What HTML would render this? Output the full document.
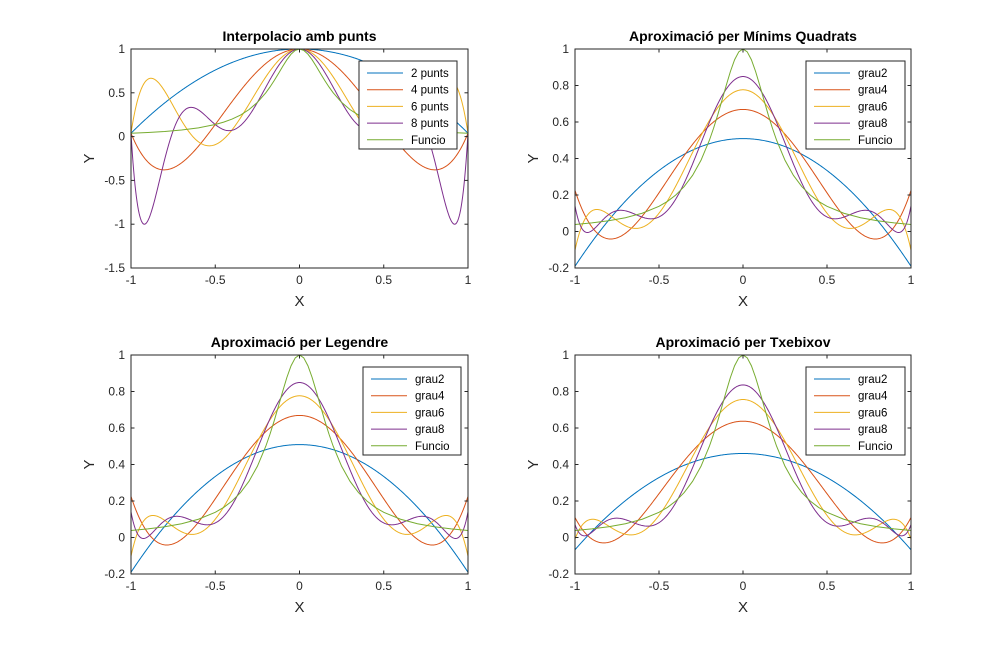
<!DOCTYPE html>
<html><head><meta charset="utf-8"><style>
body{margin:0;background:#fff;width:1008px;height:645px;overflow:hidden}
svg{font-family:"Liberation Sans",sans-serif}
</style></head><body>
<svg id="fig" width="1008" height="645"></svg>
<script>
// Data: sampled function values
const sampleX = [-1,-0.9,-0.8,-0.7,-0.6,-0.5,-0.45,-0.4,-0.35,-0.3,-0.25,-0.2,-0.175,-0.15,-0.125,-0.1,-0.075,-0.05,-0.025,0,0.025,0.05,0.075,0.1,0.125,0.15,0.175,0.2,0.25,0.3,0.35,0.4,0.45,0.5,0.6,0.7,0.8,0.9,1];
const sampleY = [0.0385,0.0471,0.0588,0.0755,0.1,0.1379,0.1649,0.2,0.2462,0.3077,0.3902,0.5,0.5664,0.64,0.7191,0.8,0.8767,0.9412,0.9846,1,0.9846,0.9412,0.8767,0.8,0.7191,0.64,0.5664,0.5,0.3902,0.3077,0.2462,0.2,0.1649,0.1379,0.1,0.0755,0.0588,0.0471,0.0385];
// Interpolation nodes (equispaced) and values
const nodes2X = [-1,0,1];
const nodes2Y = [0.0385,1,0.0385];
const nodes4X = [-1,-0.5,0,0.5,1];
const nodes4Y = [0.0385,0.1379,1,0.1379,0.0385];
const nodes6X = [-1,-2/3,-1/3,0,1/3,2/3,1];
const nodes6Y = [0.0385,0.0826,0.2647,1,0.2647,0.0826,0.0385];
const nodes8X = [-1,-0.75,-0.5,-0.25,0,0.25,0.5,0.75,1];
const nodes8Y = [0.0385,0.0664,0.1379,0.3902,1,0.3902,0.1379,0.0664,0.0385];
const degrees = [2,4,6,8];
const xTicks = [-1,-0.5,0,0.5,1];
const xTickLabels = ["-1","-0.5","0","0.5","1"];
const yTicks1 = [-1.5,-1,-0.5,0,0.5,1];
const yTickLabels1 = ["-1.5","-1","-0.5","0","0.5","1"];
const yTicks2 = [-0.2,0,0.2,0.4,0.6,0.8,1];
const yTickLabels2 = ["-0.2","0","0.2","0.4","0.6","0.8","1"];

const colors=["#0072BD","#D95319","#EDB120","#7E2F8E","#77AC30"];
const NS="http://www.w3.org/2000/svg";
const svg=document.getElementById('fig');
function el(tag,attrs,parent){const e=document.createElementNS(NS,tag);for(const k in attrs)e.setAttribute(k,attrs[k]);(parent||svg).appendChild(e);return e;}

function lagrange(xs,ys,x){let s=0;for(let i=0;i<xs.length;i++){let p=ys[i];for(let j=0;j<xs.length;j++)if(j!==i)p*=(x-xs[j])/(xs[i]-xs[j]);s+=p;}return s;}
function lsq(xs,ys,deg){const n=deg+1;const A=[];for(let i=0;i<n;i++){A.push(new Array(n+1).fill(0));}
 for(let k=0;k<xs.length;k++){for(let i=0;i<n;i++){for(let j=0;j<n;j++)A[i][j]+=Math.pow(xs[k],i+j);A[i][n]+=ys[k]*Math.pow(xs[k],i);}}
 for(let i=0;i<n;i++){let p=i;for(let r=i+1;r<n;r++)if(Math.abs(A[r][i])>Math.abs(A[p][i]))p=r;[A[i],A[p]]=[A[p],A[i]];
  for(let r=0;r<n;r++){if(r===i)continue;const f=A[r][i]/A[i][i];for(let c=i;c<=n;c++)A[r][c]-=f*A[i][c];}}
 const c=A.map((row,i)=>row[n]/row[i]);return x=>c.reduce((s,ci,i)=>s+ci*Math.pow(x,i),0);}
function linInterp(x){for(let i=0;i<sampleX.length-1;i++){if(x<=sampleX[i+1]+1e-12){const t=(x-sampleX[i])/(sampleX[i+1]-sampleX[i]);return sampleY[i]+t*(sampleY[i+1]-sampleY[i]);}}return sampleY[sampleY.length-1];}

function panel(id,L,T,W,H,ymin,ymax,yt,ytl,title,legendLabels,legBox,funcs){
 const g=el('g',{});
 const sx=x=>L+(x+1)/2*W, sy=y=>T+(ymax-y)/(ymax-ymin)*H;
 const cp=el('clipPath',{id:'c'+id},g);el('rect',{x:L,y:T,width:W,height:H},cp);
 el('rect',{x:L,y:T,width:W,height:H,fill:'#fff',stroke:'none'},g);
 funcs.forEach((f,k)=>{let d='';
  if(f.pts){f.pts.forEach((p,i)=>{d+=(i?'L':'M')+sx(p[0]).toFixed(2)+' '+sy(p[1]).toFixed(2);});}
  else{for(let i=0;i<=500;i++){const x=-1+2*i/500;d+=(i?'L':'M')+sx(x).toFixed(2)+' '+sy(f(x)).toFixed(2);}}
  const p=el('path',{d:d,fill:'none',stroke:colors[k],'stroke-width':1,'clip-path':'url(#c'+id+')'},g);
  
  });
 el('rect',{x:L,y:T,width:W,height:H,fill:'none',stroke:'#262626','stroke-width':1,},g);
 xTicks.forEach((v,i)=>{const x=sx(v);el('line',{x1:x,y1:T+H,x2:x,y2:T+H-3.5,stroke:'#262626'},g);el('line',{x1:x,y1:T,x2:x,y2:T+3.5,stroke:'#262626'},g);
  const t=el('text',{x:x,y:T+H+16,'text-anchor':'middle','font-size':12,fill:'#262626'},g);t.textContent=xTickLabels[i];
  });
 yt.forEach((v,i)=>{const y=sy(v);el('line',{x1:L,y1:y,x2:L+3.5,y2:y,stroke:'#262626'},g);el('line',{x1:L+W,y1:y,x2:L+W-3.5,y2:y,stroke:'#262626'},g);
  const t=el('text',{x:L-6,y:y+4,'text-anchor':'end','font-size':12,fill:'#262626'},g);t.textContent=ytl[i];
  });
 const tt=el('text',{x:L+W/2,y:T-8,'text-anchor':'middle','font-size':14,'font-weight':'bold',fill:'#000',},g);tt.textContent=title;
 const xl=el('text',{x:L+W/2,y:T+H+38,'text-anchor':'middle','font-size':15,fill:'#262626',},g);xl.textContent='X';
 const yl=el('text',{x:0,y:0,'text-anchor':'middle','font-size':15,fill:'#262626',transform:'translate('+(L-37)+','+(T+H/2)+') rotate(-90)',},g);yl.textContent='Y';
 const lg=el('g',{},g);
 el('rect',{x:legBox[0],y:legBox[1],width:legBox[2],height:88,fill:'#fff',stroke:'#262626'},lg);
 legendLabels.forEach((lab,k)=>{const y=legBox[1]+12+k*16.7;
  const e=el('g',{},lg);
  el('line',{x1:legBox[0]+8,y1:y,x2:legBox[0]+44,y2:y,stroke:colors[k]},e);
  const t=el('text',{x:legBox[0]+52,y:y+4,'font-size':11.5,fill:'#000'},e);t.textContent=lab;});
}
const funcPts=sampleX.map((x,i)=>[x,sampleY[i]]);
const funcLine={pts:funcPts};
panel('interpolation-plot',131,49,337,219,-1.5,1,yTicks1,yTickLabels1,'Interpolacio amb punts',
 ['2 punts','4 punts','6 punts','8 punts','Funcio'],[359,61,98],
 [x=>lagrange(nodes2X,nodes2Y,x),x=>lagrange(nodes4X,nodes4Y,x),x=>lagrange(nodes6X,nodes6Y,x),x=>lagrange(nodes8X,nodes8Y,x),funcLine]);
const gridX=[];for(let k=0;k<=400;k++)gridX.push(-1+k/200);
const gridY=gridX.map(linInterp);
const lsqFits=degrees.map(d=>lsq(gridX,gridY,d));
panel('least-squares-plot',575,49,336,219,-0.2,1,yTicks2,yTickLabels2,'Aproximació per Mínims Quadrats',
 ['grau2','grau4','grau6','grau8','Funcio'],[806,61,99],[...lsqFits,funcLine]);
panel('legendre-plot',131,355,337,219,-0.2,1,yTicks2,yTickLabels2,'Aproximació per Legendre',
 ['grau2','grau4','grau6','grau8','Funcio'],[363,367,98],[...lsqFits,funcLine]);
const chebX=[];for(let k=0;k<61;k++)chebX.push(Math.cos((2*k+1)*Math.PI/122));
const chebY=chebX.map(linInterp);
const chebFits=degrees.map(d=>lsq(chebX,chebY,d));
panel('chebyshev-plot',575,355,336,219,-0.2,1,yTicks2,yTickLabels2,'Aproximació per Txebixov',
 ['grau2','grau4','grau6','grau8','Funcio'],[806,367,99],[...chebFits,funcLine]);
</script>
</body></html>
